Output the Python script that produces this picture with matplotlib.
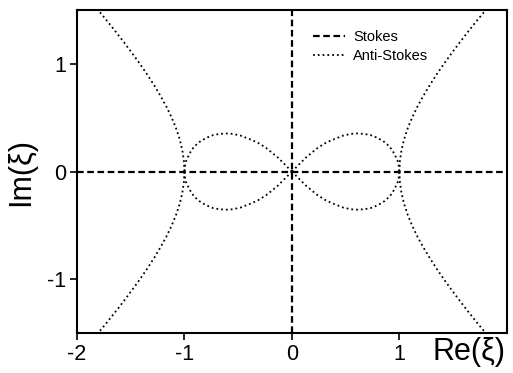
import numpy as np
import matplotlib
matplotlib.use("Agg")
import matplotlib.pyplot as plt

plt.rcParams["font.family"] = ["Liberation Sans", "DejaVu Sans"]
plt.rcParams["axes.unicode_minus"] = False

# upper right quarter of the figure-eight loop, from the origin to (1, 0)
LOOP_X = [0.0, 0.09, 0.13, 0.24, 0.32, 0.39, 0.48, 0.55, 0.61, 0.67, 0.73,
          0.78, 0.82, 0.86, 0.90, 0.93, 0.95, 0.97, 0.99, 1.0]
LOOP_Y = [0.0, 0.09, 0.13, 0.22, 0.27, 0.30, 0.335, 0.35, 0.354, 0.35, 0.34,
          0.32, 0.30, 0.275, 0.24, 0.205, 0.17, 0.13, 0.085, 0.0]

# upper right branch of the outer anti-Stokes line, from (1, 0) to the top edge
OUTER_X = [1.0, 1.005, 1.02, 1.044, 1.077, 1.118, 1.166, 1.221, 1.281, 1.345,
           1.414, 1.487, 1.562, 1.64, 1.72, 1.803]
OUTER_Y = [0.0, 0.1, 0.2, 0.3, 0.4, 0.5, 0.6, 0.7, 0.8, 0.9,
           1.0, 1.1, 1.2, 1.3, 1.4, 1.5]

X_TICKS = [-2, -1, 0, 1]
Y_TICKS = [-1, 0, 1]

STOKES_STYLE = dict(color="black", lw=1.6, dashes=(3, 1.6))
ANTI_STYLE = dict(color="black", lw=1.3, ls=":")


def makePlot():
    fig = plt.figure(figsize=(5.13, 3.73), dpi=100)
    ax = fig.add_axes([0.150, 0.107, 0.838, 0.866])

    # Stokes lines lie on the two axes
    ax.plot([-2, 2], [0, 0], label="Stokes", **STOKES_STYLE)
    ax.plot([0, 0], [-1.5, 1.5], **STOKES_STYLE)

    lx = np.array(LOOP_X)
    ly = np.array(LOOP_Y)
    ox = np.array(OUTER_X)
    oy = np.array(OUTER_Y)
    first = True
    for sx in (1, -1):
        for sy in (1, -1):
            ax.plot(sx * lx, sy * ly, label="Anti-Stokes" if first else None,
                    **ANTI_STYLE)
            ax.plot(sx * ox, sy * oy, **ANTI_STYLE)
            first = False

    ax.set_xlim(-2, 2)
    ax.set_ylim(-1.5, 1.5)
    ax.set_xticks(X_TICKS)
    ax.set_yticks(Y_TICKS)
    ax.tick_params(direction="out", length=5, width=1.2, labelsize=15.5, pad=3)
    for s in ax.spines.values():
        s.set_linewidth(1.5)

    ax.set_xlabel("Re(ξ)", fontsize=22, va="center")
    ax.xaxis.set_label_coords(0.912, -0.06)
    ax.set_ylabel("Im(ξ)", fontsize=22, va="center")
    ax.yaxis.set_label_coords(-0.13, 0.5)

    ax.legend(loc="upper left", bbox_to_anchor=(0.535, 0.955), frameon=False,
              fontsize=10.5, handlelength=2.2, handletextpad=0.55,
              labelspacing=0.3, borderaxespad=0)

    fig.savefig("out.png", dpi=100)


if __name__ == "__main__":
    makePlot()
